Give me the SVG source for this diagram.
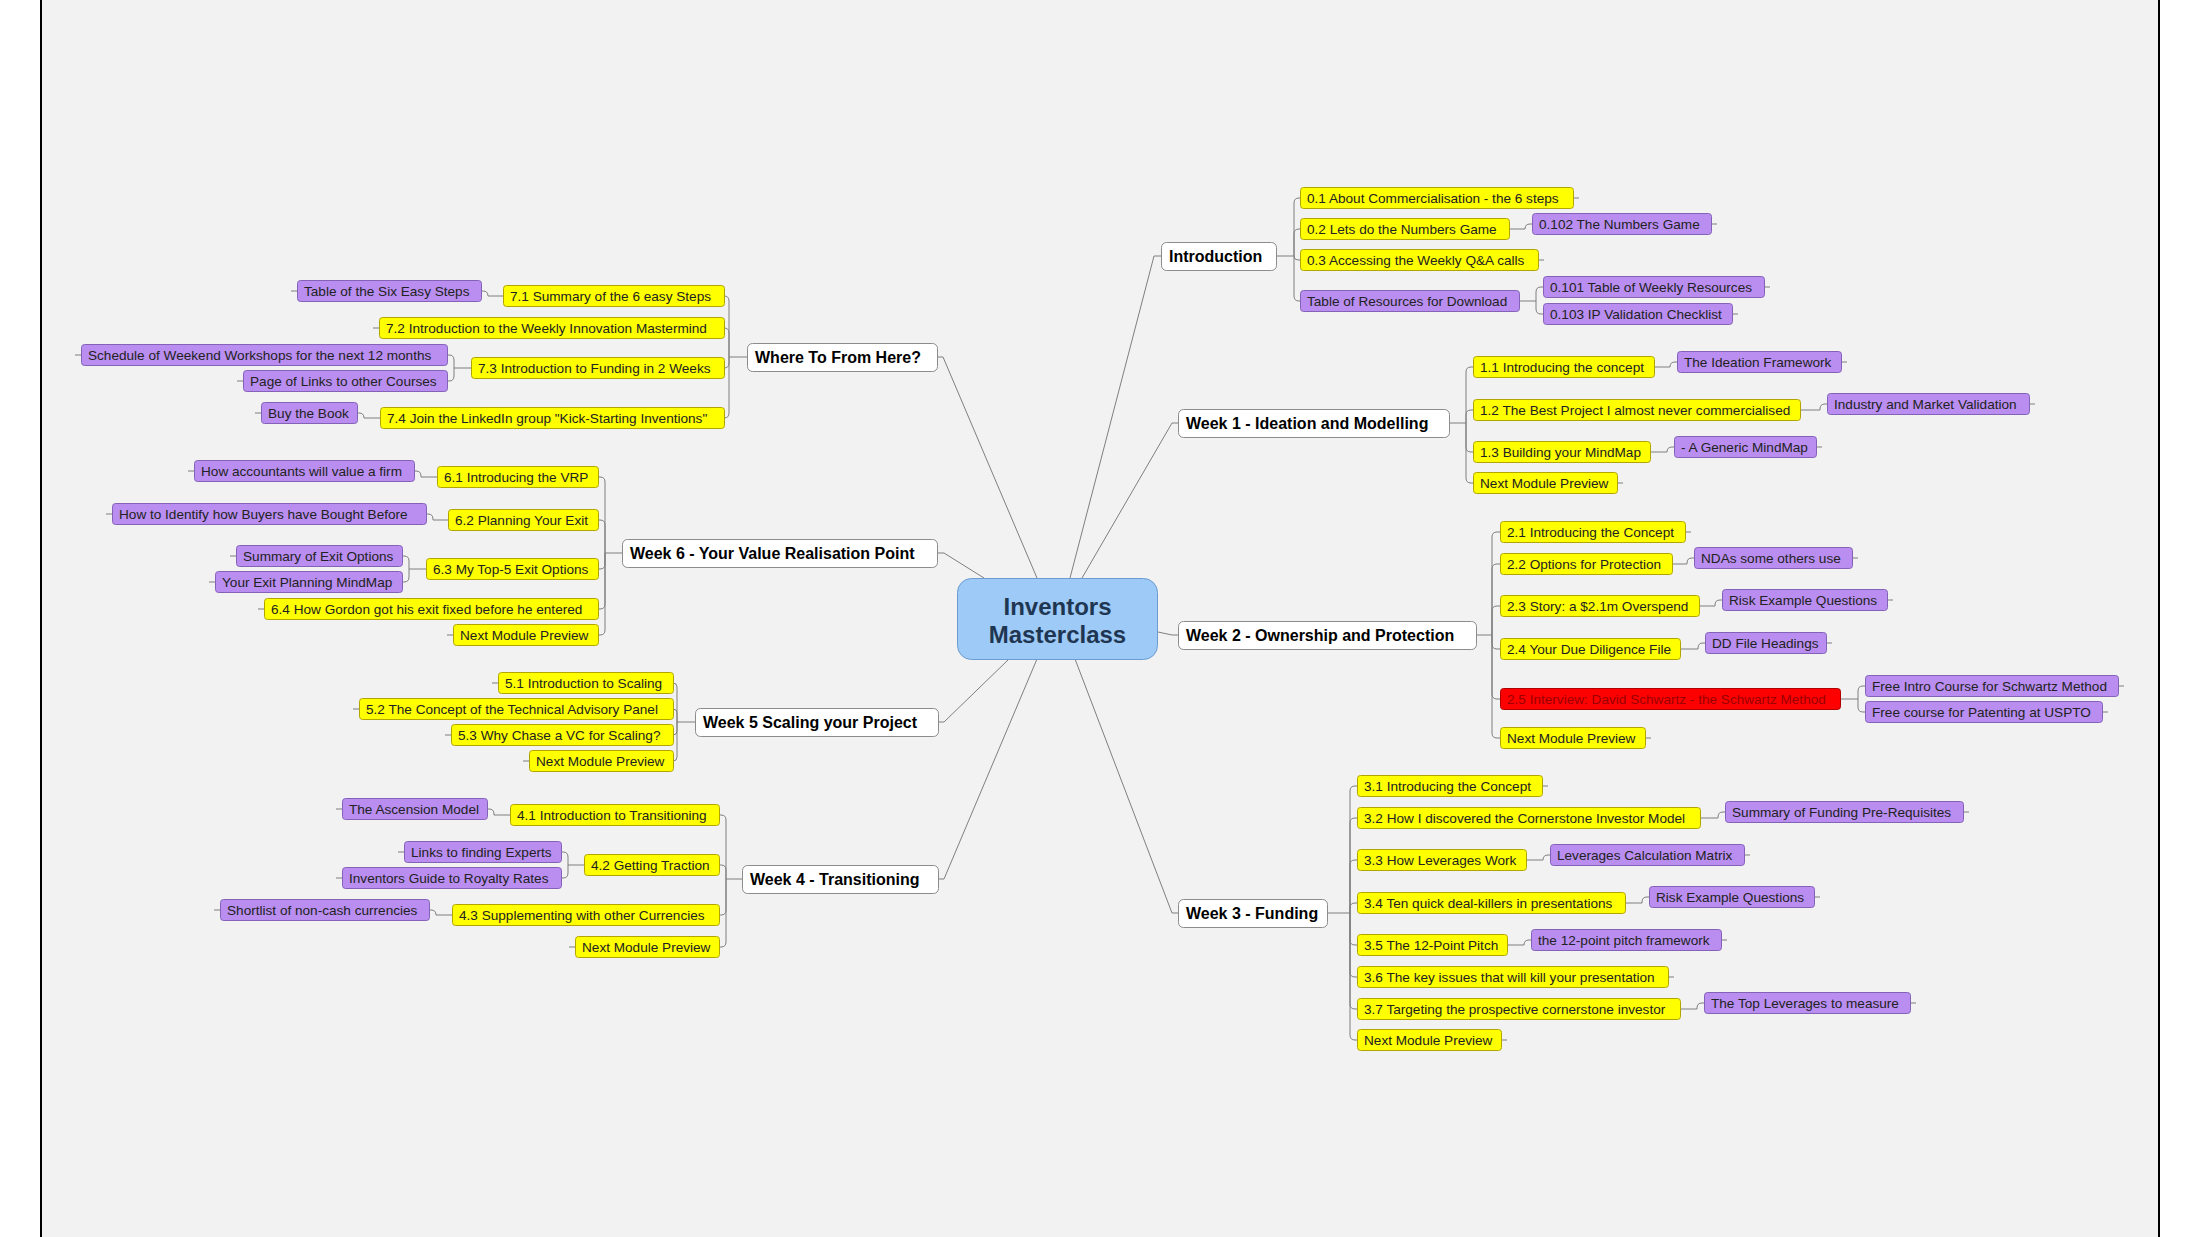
<svg xmlns="http://www.w3.org/2000/svg" width="2200" height="1237" viewBox="0 0 2200 1237">
<style>
.y{fill:#ffff00;stroke:#b3a500;stroke-width:1}
.p{fill:#b98ef0;stroke:#8462b8;stroke-width:1}
.r{fill:#ff0000;stroke:#b00000;stroke-width:1}
.w{fill:#ffffff;stroke:#8c8c8c;stroke-width:1}
.s{font-family:"Liberation Sans",Arial,sans-serif;font-size:13.6px;fill:#222}
.rt{fill:#9a0000}
.b{font-family:"Liberation Sans",Arial,sans-serif;font-size:16px;font-weight:bold;fill:#000}
.ct{font-family:"Liberation Sans",Arial,sans-serif;font-size:24px;font-weight:bold;fill:#1f3652;text-anchor:middle}
.c{fill:none;stroke:#7f7f7f;stroke-width:1}
</style>
<rect x="0" y="0" width="2200" height="1237" fill="#ffffff"/>
<rect x="42" y="0" width="2116" height="1237" fill="#f2f2f2"/>
<rect x="40" y="0" width="2" height="1237" fill="#000"/>
<rect x="2158" y="0" width="2" height="1237" fill="#000"/>

<g id="connectors" class="c">
<path d="M1037 578L943 357H937M1070 578L1154 256H1161M1082 578L1172 423H1178M1158 632L1172 635H1178M1075 659L1172 913H1178M1037 659L944 879H938M1009 659L944 722H938M984 578L944 553H938"/>
<path d="M1276 256H1294M1294 256V203Q1294 198 1299 198H1300M1294 256V234Q1294 229 1299 229H1300M1294 256Q1294 260 1298 260H1300M1294 256V296Q1294 301 1299 301H1300"/>
<path d="M1509 229H1525Q1525 224 1530 224H1532M1519 301H1536M1536 301V292Q1536 287 1541 287H1543M1536 301V309Q1536 314 1541 314H1543"/>
<path d="M1449 423H1466M1466 423V372Q1466 367 1471 367H1473M1466 423V415Q1466 410 1471 410H1473M1466 423V447Q1466 452 1471 452H1473M1466 423V478Q1466 483 1471 483H1473"/>
<path d="M1654 367H1670Q1670 362 1675 362H1677M1800 410H1820V409Q1820 404 1825 404H1827M1650 452H1667Q1667 447 1672 447H1674"/>
<path d="M1476 635H1492M1492 635V537Q1492 532 1497 532H1500M1492 635V569Q1492 564 1497 564H1500M1492 635V611Q1492 606 1497 606H1500M1492 635V644Q1492 649 1497 649H1500M1492 635V694Q1492 699 1497 699H1500M1492 635V733Q1492 738 1497 738H1500"/>
<path d="M1672 564H1687V563Q1687 558 1692 558H1694M1699 606H1715V605Q1715 600 1720 600H1722M1680 649H1698V648Q1698 643 1703 643H1705M1840 699H1858M1858 699V691Q1858 686 1863 686H1865M1858 699V707Q1858 712 1863 712H1865"/>
<path d="M1327 913H1350M1350 913V791Q1350 786 1355 786H1357M1350 913V823Q1350 818 1355 818H1357M1350 913V865Q1350 860 1355 860H1357M1350 913V908Q1350 903 1355 903H1357M1350 913V940Q1350 945 1355 945H1357M1350 913V972Q1350 977 1355 977H1357M1350 913V1004Q1350 1009 1355 1009H1357M1350 913V1035Q1350 1040 1355 1040H1357"/>
<path d="M1700 818H1718V817Q1718 812 1723 812H1725M1526 860H1543Q1543 855 1548 855H1550M1625 903H1642V902Q1642 897 1647 897H1649M1507 945H1524Q1524 940 1529 940H1531M1680 1009H1697V1008Q1697 1003 1702 1003H1704"/>
<path d="M747 357H729M729 357V301Q729 296 724 296M729 357V333Q729 328 724 328M729 357V363Q729 368 724 368M729 357V413Q729 418 724 418"/>
<path d="M503 296H488Q488 291 483 291H481M471 368H454M454 368V360Q454 355 449 355H447M454 368V376Q454 381 449 381H447M380 418H364Q364 413 359 413H357"/>
<path d="M622 553H605M605 553V482Q605 477 600 477H598M605 553V525Q605 520 600 520H598M605 553V564Q605 569 600 569H598M605 553V604Q605 609 600 609H598M605 553V630Q605 635 600 635H598"/>
<path d="M437 477H421V476Q421 471 416 471H414M448 520H433V519Q433 514 428 514H426M426 569H409M409 569V561Q409 556 404 556H402M409 569V577Q409 582 404 582H402"/>
<path d="M695 722H677M677 722V687Q677 683 673 683M677 722V713Q677 709 673 709M677 722V731Q677 735 673 735M677 722V757Q677 761 673 761"/>
<path d="M742 879H726M726 879V820Q726 815 721 815H719M726 879V870Q726 865 721 865H719M726 879V910Q726 915 721 915H719M726 879V942Q726 947 721 947H719"/>
<path d="M510 815H494V814Q494 809 489 809H487M584 865H568M568 865V857Q568 852 563 852H561M568 865V873Q568 878 563 878H561M452 915H436Q436 910 431 910H429"/>
<path d="M1573 198h6M1711 224h6M1538 260h6M1764 287h6M1732 314h6M1841 362h6M2029 404h6M1816 447h6M1617 483h6M1685 532h6M1852 558h6M1887 600h6M1826 643h6M2118 686h6M2102 712h6M1645 738h6M1542 786h6M1963 812h6M1744 855h6M1814 897h6M1721 940h6M1668 977h6M1910 1003h6M1501 1040h6"/>
<path d="M297 291h-6M379 328h-6M81 355h-6M243 381h-6M261 413h-6M194 471h-6M112 514h-6M236 556h-6M215 582h-6M264 609h-6M453 635h-6M498 683h-6M359 709h-6M451 735h-6M529 761h-6M342 809h-6M404 852h-6M342 878h-6M220 910h-6M575 947h-6"/>
</g>

<g id="center"><rect x="957.5" y="578.5" width="200" height="81" rx="14" fill="#9dcaf6" stroke="#6c9ccf"/><text class="ct" x="1057.5" y="615">Inventors</text><text class="ct" x="1057.5" y="643">Masterclass</text></g>

<g id="introduction"><rect class="w" x="1161.5" y="242.5" width="115" height="28" rx="5"/><text class="b" x="1169" y="262">Introduction</text></g>
<g id="week1"><rect class="w" x="1178.5" y="409.5" width="271" height="28" rx="5"/><text class="b" x="1186" y="429">Week 1 - Ideation and Modelling</text></g>
<g id="week2"><rect class="w" x="1178.5" y="621.5" width="298" height="28" rx="5"/><text class="b" x="1186" y="641">Week 2 - Ownership and Protection</text></g>
<g id="week3"><rect class="w" x="1178.5" y="899.5" width="149" height="28" rx="5"/><text class="b" x="1186" y="919">Week 3 - Funding</text></g>
<g id="where"><rect class="w" x="747.5" y="343.5" width="190" height="28" rx="5"/><text class="b" x="755" y="363">Where To From Here?</text></g>
<g id="week6"><rect class="w" x="622.5" y="539.5" width="315" height="28" rx="5"/><text class="b" x="630" y="559">Week 6 - Your Value Realisation Point</text></g>
<g id="week5"><rect class="w" x="695.5" y="708.5" width="243" height="28" rx="5"/><text class="b" x="703" y="728">Week 5 Scaling your Project</text></g>
<g id="week4"><rect class="w" x="742.5" y="865.5" width="196" height="28" rx="5"/><text class="b" x="750" y="885">Week 4 - Transitioning</text></g>

<g id="n01"><rect class="y" x="1300.5" y="187.5" width="273" height="21" rx="3"/><text class="s" x="1307" y="203">0.1 About Commercialisation - the 6 steps</text></g>
<g id="n02"><rect class="y" x="1300.5" y="218.5" width="209" height="21" rx="3"/><text class="s" x="1307" y="234">0.2 Lets do the Numbers Game</text></g>
<g id="n0102"><rect class="p" x="1532.5" y="213.5" width="179" height="21" rx="3"/><text class="s" x="1539" y="229">0.102 The Numbers Game</text></g>
<g id="n03"><rect class="y" x="1300.5" y="249.5" width="238" height="21" rx="3"/><text class="s" x="1307" y="265">0.3 Accessing the Weekly Q&amp;A calls</text></g>
<g id="nTab"><rect class="p" x="1300.5" y="290.5" width="219" height="21" rx="3"/><text class="s" x="1307" y="306">Table of Resources for Download</text></g>
<g id="n0101"><rect class="p" x="1543.5" y="276.5" width="221" height="21" rx="3"/><text class="s" x="1550" y="292">0.101 Table of Weekly Resources</text></g>
<g id="n0103"><rect class="p" x="1543.5" y="303.5" width="189" height="21" rx="3"/><text class="s" x="1550" y="319">0.103 IP Validation Checklist</text></g>

<g id="n11"><rect class="y" x="1473.5" y="356.5" width="181" height="21" rx="3"/><text class="s" x="1480" y="372">1.1 Introducing the concept</text></g>
<g id="nIdea"><rect class="p" x="1677.5" y="351.5" width="164" height="21" rx="3"/><text class="s" x="1684" y="367">The Ideation Framework</text></g>
<g id="n12"><rect class="y" x="1473.5" y="399.5" width="327" height="21" rx="3"/><text class="s" x="1480" y="415">1.2 The Best Project I almost never commercialised</text></g>
<g id="nInd"><rect class="p" x="1827.5" y="393.5" width="202" height="21" rx="3"/><text class="s" x="1834" y="409">Industry and Market Validation</text></g>
<g id="n13"><rect class="y" x="1473.5" y="441.5" width="177" height="21" rx="3"/><text class="s" x="1480" y="457">1.3 Building your MindMap</text></g>
<g id="nGen"><rect class="p" x="1674.5" y="436.5" width="142" height="21" rx="3"/><text class="s" x="1681" y="452">- A Generic MindMap</text></g>
<g id="n1N"><rect class="y" x="1473.5" y="472.5" width="144" height="21" rx="3"/><text class="s" x="1480" y="488">Next Module Preview</text></g>

<g id="n21"><rect class="y" x="1500.5" y="521.5" width="185" height="21" rx="3"/><text class="s" x="1507" y="537">2.1 Introducing the Concept</text></g>
<g id="n22"><rect class="y" x="1500.5" y="553.5" width="172" height="21" rx="3"/><text class="s" x="1507" y="569">2.2 Options for Protection</text></g>
<g id="nNDA"><rect class="p" x="1694.5" y="547.5" width="158" height="21" rx="3"/><text class="s" x="1701" y="563">NDAs some others use</text></g>
<g id="n23"><rect class="y" x="1500.5" y="595.5" width="199" height="21" rx="3"/><text class="s" x="1507" y="611">2.3 Story: a $2.1m Overspend</text></g>
<g id="nRisk2"><rect class="p" x="1722.5" y="589.5" width="165" height="21" rx="3"/><text class="s" x="1729" y="605">Risk Example Questions</text></g>
<g id="n24"><rect class="y" x="1500.5" y="638.5" width="180" height="21" rx="3"/><text class="s" x="1507" y="654">2.4 Your Due Diligence File</text></g>
<g id="nDD"><rect class="p" x="1705.5" y="632.5" width="121" height="21" rx="3"/><text class="s" x="1712" y="648">DD File Headings</text></g>
<g id="n25"><rect class="r" x="1500.5" y="688.5" width="340" height="21" rx="3"/><text class="s rt" x="1507" y="704">2.5 Interview: David Schwartz - the Schwartz Method</text></g>
<g id="nFree1"><rect class="p" x="1865.5" y="675.5" width="253" height="21" rx="3"/><text class="s" x="1872" y="691">Free Intro Course for Schwartz Method</text></g>
<g id="nFree2"><rect class="p" x="1865.5" y="701.5" width="237" height="21" rx="3"/><text class="s" x="1872" y="717">Free course for Patenting at USPTO</text></g>
<g id="n2N"><rect class="y" x="1500.5" y="727.5" width="145" height="21" rx="3"/><text class="s" x="1507" y="743">Next Module Preview</text></g>

<g id="n31"><rect class="y" x="1357.5" y="775.5" width="185" height="21" rx="3"/><text class="s" x="1364" y="791">3.1 Introducing the Concept</text></g>
<g id="n32"><rect class="y" x="1357.5" y="807.5" width="343" height="21" rx="3"/><text class="s" x="1364" y="823">3.2 How I discovered the Cornerstone Investor Model</text></g>
<g id="nSum"><rect class="p" x="1725.5" y="801.5" width="238" height="21" rx="3"/><text class="s" x="1732" y="817">Summary of Funding Pre-Requisites</text></g>
<g id="n33"><rect class="y" x="1357.5" y="849.5" width="169" height="21" rx="3"/><text class="s" x="1364" y="865">3.3 How Leverages Work</text></g>
<g id="nLev"><rect class="p" x="1550.5" y="844.5" width="194" height="21" rx="3"/><text class="s" x="1557" y="860">Leverages Calculation Matrix</text></g>
<g id="n34"><rect class="y" x="1357.5" y="892.5" width="268" height="21" rx="3"/><text class="s" x="1364" y="908">3.4 Ten quick deal-killers in presentations</text></g>
<g id="nRisk3"><rect class="p" x="1649.5" y="886.5" width="165" height="21" rx="3"/><text class="s" x="1656" y="902">Risk Example Questions</text></g>
<g id="n35"><rect class="y" x="1357.5" y="934.5" width="150" height="21" rx="3"/><text class="s" x="1364" y="950">3.5 The 12-Point Pitch</text></g>
<g id="nPitch"><rect class="p" x="1531.5" y="929.5" width="190" height="21" rx="3"/><text class="s" x="1538" y="945">the 12-point pitch framework</text></g>
<g id="n36"><rect class="y" x="1357.5" y="966.5" width="311" height="21" rx="3"/><text class="s" x="1364" y="982">3.6 The key issues that will kill your presentation</text></g>
<g id="n37"><rect class="y" x="1357.5" y="998.5" width="323" height="21" rx="3"/><text class="s" x="1364" y="1014">3.7 Targeting the prospective cornerstone investor</text></g>
<g id="nTop"><rect class="p" x="1704.5" y="992.5" width="206" height="21" rx="3"/><text class="s" x="1711" y="1008">The Top Leverages to measure</text></g>
<g id="n3N"><rect class="y" x="1357.5" y="1029.5" width="144" height="21" rx="3"/><text class="s" x="1364" y="1045">Next Module Preview</text></g>

<g id="n71"><rect class="y" x="503.5" y="285.5" width="221" height="21" rx="3"/><text class="s" x="510" y="301">7.1 Summary of the 6 easy Steps</text></g>
<g id="nSix"><rect class="p" x="297.5" y="280.5" width="184" height="21" rx="3"/><text class="s" x="304" y="296">Table of the Six Easy Steps</text></g>
<g id="n72"><rect class="y" x="379.5" y="317.5" width="345" height="21" rx="3"/><text class="s" x="386" y="333">7.2 Introduction to the Weekly Innovation Mastermind</text></g>
<g id="n73"><rect class="y" x="471.5" y="357.5" width="253" height="21" rx="3"/><text class="s" x="478" y="373">7.3 Introduction to Funding in 2 Weeks</text></g>
<g id="nSch"><rect class="p" x="81.5" y="344.5" width="366" height="21" rx="3"/><text class="s" x="88" y="360">Schedule of Weekend Workshops for the next 12 months</text></g>
<g id="nPage"><rect class="p" x="243.5" y="370.5" width="204" height="21" rx="3"/><text class="s" x="250" y="386">Page of Links to other Courses</text></g>
<g id="n74"><rect class="y" x="380.5" y="407.5" width="344" height="21" rx="3"/><text class="s" x="387" y="423">7.4 Join the LinkedIn group "Kick-Starting Inventions"</text></g>
<g id="nBook"><rect class="p" x="261.5" y="402.5" width="96" height="21" rx="3"/><text class="s" x="268" y="418">Buy the Book</text></g>

<g id="n61"><rect class="y" x="437.5" y="466.5" width="161" height="21" rx="3"/><text class="s" x="444" y="482">6.1 Introducing the VRP</text></g>
<g id="nAcc"><rect class="p" x="194.5" y="460.5" width="220" height="21" rx="3"/><text class="s" x="201" y="476">How accountants will value a firm</text></g>
<g id="n62"><rect class="y" x="448.5" y="509.5" width="150" height="21" rx="3"/><text class="s" x="455" y="525">6.2 Planning Your Exit</text></g>
<g id="nBuy"><rect class="p" x="112.5" y="503.5" width="314" height="21" rx="3"/><text class="s" x="119" y="519">How to Identify how Buyers have Bought Before</text></g>
<g id="n63"><rect class="y" x="426.5" y="558.5" width="172" height="21" rx="3"/><text class="s" x="433" y="574">6.3 My Top-5 Exit Options</text></g>
<g id="nSEO"><rect class="p" x="236.5" y="545.5" width="166" height="21" rx="3"/><text class="s" x="243" y="561">Summary of Exit Options</text></g>
<g id="nYEP"><rect class="p" x="215.5" y="571.5" width="187" height="21" rx="3"/><text class="s" x="222" y="587">Your Exit Planning MindMap</text></g>
<g id="n64"><rect class="y" x="264.5" y="598.5" width="334" height="21" rx="3"/><text class="s" x="271" y="614">6.4 How Gordon got his exit fixed before he entered</text></g>
<g id="n6N"><rect class="y" x="453.5" y="624.5" width="145" height="21" rx="3"/><text class="s" x="460" y="640">Next Module Preview</text></g>

<g id="n51"><rect class="y" x="498.5" y="672.5" width="175" height="21" rx="3"/><text class="s" x="505" y="688">5.1 Introduction to Scaling</text></g>
<g id="n52"><rect class="y" x="359.5" y="698.5" width="314" height="21" rx="3"/><text class="s" x="366" y="714">5.2 The Concept of the Technical Advisory Panel</text></g>
<g id="n53"><rect class="y" x="451.5" y="724.5" width="222" height="21" rx="3"/><text class="s" x="458" y="740">5.3 Why Chase a VC for Scaling?</text></g>
<g id="n5N"><rect class="y" x="529.5" y="750.5" width="144" height="21" rx="3"/><text class="s" x="536" y="766">Next Module Preview</text></g>

<g id="n41"><rect class="y" x="510.5" y="804.5" width="209" height="21" rx="3"/><text class="s" x="517" y="820">4.1 Introduction to Transitioning</text></g>
<g id="nAsc"><rect class="p" x="342.5" y="798.5" width="145" height="21" rx="3"/><text class="s" x="349" y="814">The Ascension Model</text></g>
<g id="n42"><rect class="y" x="584.5" y="854.5" width="135" height="21" rx="3"/><text class="s" x="591" y="870">4.2 Getting Traction</text></g>
<g id="nLinks"><rect class="p" x="404.5" y="841.5" width="157" height="21" rx="3"/><text class="s" x="411" y="857">Links to finding Experts</text></g>
<g id="nRoy"><rect class="p" x="342.5" y="867.5" width="219" height="21" rx="3"/><text class="s" x="349" y="883">Inventors Guide to Royalty Rates</text></g>
<g id="n43"><rect class="y" x="452.5" y="904.5" width="267" height="21" rx="3"/><text class="s" x="459" y="920">4.3 Supplementing with other Currencies</text></g>
<g id="nCash"><rect class="p" x="220.5" y="899.5" width="209" height="21" rx="3"/><text class="s" x="227" y="915">Shortlist of non-cash currencies</text></g>
<g id="n4N"><rect class="y" x="575.5" y="936.5" width="144" height="21" rx="3"/><text class="s" x="582" y="952">Next Module Preview</text></g>
</svg>
